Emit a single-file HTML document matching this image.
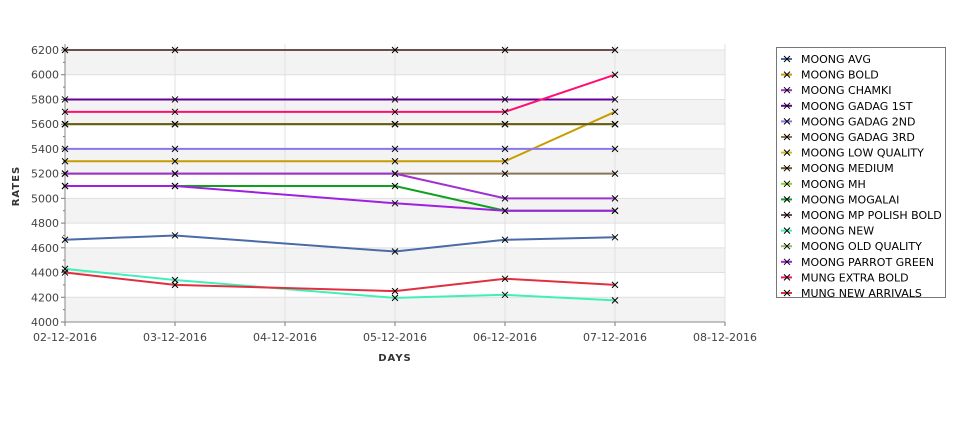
<!DOCTYPE html>
<html><head><meta charset="utf-8"><style>
body{margin:0;background:#fff;font-family:"Liberation Sans","DejaVu Sans",sans-serif}
svg text{font-family:"DejaVu Sans","Liberation Sans",sans-serif}
</style></head><body>
<svg id="chart" width="975" height="429" xmlns="http://www.w3.org/2000/svg">
<g id="bands"></g><g id="grid"></g><g id="axes"></g><g id="series"></g><g id="legend"></g>
<text x="0" y="0" transform="translate(19,186) rotate(-90)" text-anchor="middle" font-size="10" font-weight="bold" fill="#333" letter-spacing="1">RATES</text>
<text x="395" y="361" text-anchor="middle" font-size="10" font-weight="bold" fill="#333" letter-spacing="1">DAYS</text>
</svg>
<script>
const dateLabels=["02-12-2016","03-12-2016","04-12-2016","05-12-2016","06-12-2016","07-12-2016","08-12-2016"];
const pointDays=[0,1,3,4,5];
const yTicks=[4000,4200,4400,4600,4800,5000,5200,5400,5600,5800,6000,6200];
const seriesNames=["MOONG AVG","MOONG BOLD","MOONG CHAMKI","MOONG GADAG 1ST","MOONG GADAG 2ND","MOONG GADAG 3RD","MOONG LOW QUALITY","MOONG MEDIUM","MOONG MH","MOONG MOGALAI","MOONG MP POLISH BOLD","MOONG NEW","MOONG OLD QUALITY","MOONG PARROT GREEN","MUNG EXTRA BOLD","MUNG NEW ARRIVALS"];
const seriesColors=["#4a6aa8","#c89c00","#a030d0","#660099","#8877ee","#8b7455","#c8c020","#6b5a1e","#90d020","#10a020","#6b4f4f","#40f0b8","#90c060","#a020e0","#ff1070","#e03040"];
const sAvg=[4665,4700,4570,4665,4685];
const sBold=[5300,5300,5300,5300,5700];
const sChamki=[5200,5200,5200,5000,5000];
const sGadag1=[5800,5800,5800,5800,5800];
const sGadag2=[5400,5400,5400,5400,5400];
const sGadag3=[5200,5200,5200,5200,5200];
const sLow=[5600,5600,5600,5600,5600];
const sMedium=[5600,5600,5600,5600,5600];
const sMh=[5600,5600,5600,5600,5600];
const sMogalai=[5100,5100,5100,4900,4900];
const sPolish=[6200,6200,6200,6200,6200];
const sNew=[4430,4340,4195,4220,4175];
const sOld=[5600,5600,5600,5600,5600];
const sParrot=[5100,5100,4960,4900,4900];
const sExtra=[5700,5700,5700,5700,6000];
const sArrivals=[4400,4300,4250,4350,4300];
const seriesData=[sAvg,sBold,sChamki,sGadag1,sGadag2,sGadag3,sLow,sMedium,sMh,sMogalai,sPolish,sNew,sOld,sParrot,sExtra,sArrivals];
const drawOrder=[0,1,6,8,12,7,3,4,5,2,9,13,10,14,11,15];

const NS="http://www.w3.org/2000/svg";
const X0=65,DX=110,YB=322,YT=50,VMIN=4000,VMAX=6200;
const xs=d=>X0+d*DX;
const ys=v=>YB-(v-VMIN)/(VMAX-VMIN)*(YB-YT);
function mk(tag,attrs,parent){const e=document.createElementNS(NS,tag);for(const k in attrs)e.setAttribute(k,attrs[k]);parent.appendChild(e);return e;}
const bands=document.getElementById('bands'),grid=document.getElementById('grid'),axes=document.getElementById('axes'),ser=document.getElementById('series'),leg=document.getElementById('legend');
mk('rect',{x:X0,y:44,width:660,height:YB-44,fill:'#fff'},bands);
for(let i=0;i<yTicks.length-1;i+=2){const r=mk('rect',{x:X0,y:ys(yTicks[i+1]),width:660,height:ys(yTicks[i])-ys(yTicks[i+1]),fill:'#f3f3f3'},bands);

}
yTicks.forEach(v=>{mk('line',{x1:X0,x2:725,y1:ys(v),y2:ys(v),stroke:'#e0e0e0'},grid);
mk('line',{x1:X0-4,x2:X0,y1:ys(v),y2:ys(v),stroke:'#777'},axes);
const t=mk('text',{x:X0-6,y:ys(v)+4,'text-anchor':'end','font-size':11,fill:'#444'},axes);t.textContent=v;


if(v<VMAX)mk('line',{x1:X0-2,x2:X0,y1:ys(v+100),y2:ys(v+100),stroke:'#777'},axes);});
dateLabels.forEach((d,i)=>{mk('line',{x1:xs(i),x2:xs(i),y1:44,y2:YB,stroke:'#e0e0e0'},grid);
mk('line',{x1:xs(i),x2:xs(i),y1:YB,y2:YB+4,stroke:'#777'},axes);
const t=mk('text',{x:xs(i),y:YB+19,'text-anchor':'middle','font-size':11,fill:'#444'},axes);t.textContent=d;

});
mk('line',{x1:X0,x2:X0,y1:44,y2:YB,stroke:'#888'},axes);
mk('line',{x1:X0,x2:725,y1:YB,y2:YB,stroke:'#888'},axes);
drawOrder.forEach(si=>{const data=seriesData[si];const g=mk('g',{},ser);


mk('polyline',{points:data.map((v,i)=>xs(pointDays[i])+','+ys(v)).join(' '),fill:'none',stroke:seriesColors[si],'stroke-width':2},g);
data.forEach((v,i)=>{const x=xs(pointDays[i]),y=ys(v);mk('path',{d:`M${x-3},${y-3}L${x+3},${y+3}M${x+3},${y-3}L${x-3},${y+3}`,stroke:'#000','stroke-width':1},g);});});
const lb=mk('rect',{x:776.5,y:47.5,width:169,height:250,fill:'#fff',stroke:'#777'},leg);


seriesNames.forEach((n,i)=>{const y=59+i*15.6;const g=mk('g',{},leg);


mk('line',{x1:781,x2:792,y1:y,y2:y,stroke:seriesColors[i],'stroke-width':2},g);
mk('path',{d:`M784,${y-3}L790,${y+3}M790,${y-3}L784,${y+3}`,stroke:'#000'},g);
const t=mk('text',{x:801,y:y+4,'font-size':11,fill:'#000'},g);t.textContent=n;});
</script>
</body></html>
